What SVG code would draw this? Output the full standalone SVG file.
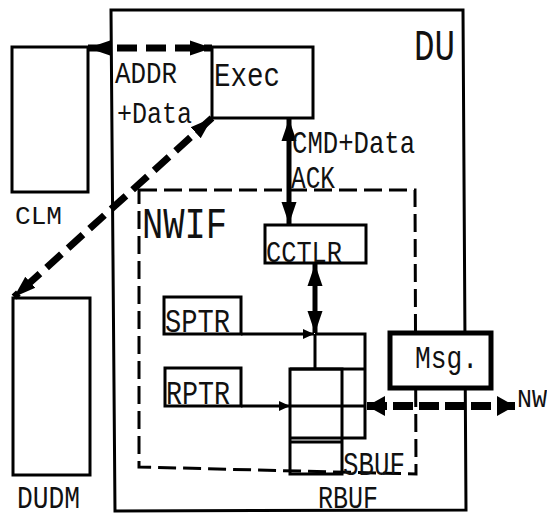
<svg xmlns="http://www.w3.org/2000/svg" width="547" height="513" viewBox="0 0 547 513">
<style>
.box{fill:none;stroke:#000;stroke-width:3}
.t{font-family:"Liberation Mono","Courier New",monospace;fill:#111;}
.dash{fill:none;stroke:#000;stroke-width:3;stroke-dasharray:18 7}
.thick{fill:none;stroke:#000;stroke-width:7;stroke-dasharray:20 9}
.solid{fill:none;stroke:#000;stroke-width:5}
.thin{fill:none;stroke:#000;stroke-width:3}
</style>
<defs>
<marker id="hd" markerUnits="userSpaceOnUse" markerWidth="24" markerHeight="20" refX="22" refY="10" orient="auto-start-reverse"><path d="M0,2.5 L22,10 L0,17.5 z" fill="#000"/></marker>
<marker id="hn" markerUnits="userSpaceOnUse" markerWidth="20" markerHeight="22" refX="18" refY="11" orient="auto-start-reverse"><path d="M0,1 L18,11 L0,21 z" fill="#000"/></marker>
<marker id="hs" markerUnits="userSpaceOnUse" markerWidth="24" markerHeight="18" refX="22" refY="9" orient="auto-start-reverse"><path d="M0,1.5 L22,9 L0,16.5 z" fill="#000"/></marker>
<marker id="hp" markerUnits="userSpaceOnUse" markerWidth="12" markerHeight="12" refX="11" refY="6" orient="auto"><path d="M0,1 L11,6 L0,11 z" fill="#000"/></marker>
</defs>
<rect width="547" height="513" fill="#fff"/>

<g id="DU">
<path class="box" d="M111,10 L463,10 L466,510 L115,511 Z"/>
<text class="t" x="414" y="60" font-size="45" textLength="41" lengthAdjust="spacingAndGlyphs">DU</text>
</g>

<g id="NWIF">
<path class="dash" d="M139,190 L415,190 L416,474 L139,467 Z"/>
<text class="t" x="142" y="238" font-size="45" textLength="85" lengthAdjust="spacingAndGlyphs">NWIF</text>
</g>

<g id="CLM">
<rect class="box" x="12" y="47" width="76" height="145"/>
<text class="t" x="15" y="224" font-size="26" textLength="47" lengthAdjust="spacingAndGlyphs">CLM</text>
</g>

<g id="DUDM">
<rect class="box" x="13" y="298" width="77" height="177"/>
<text class="t" x="17" y="508" font-size="32" textLength="63" lengthAdjust="spacingAndGlyphs">DUDM</text>
</g>

<g id="Exec">
<rect class="box" x="212" y="47" width="101" height="71"/>
<text class="t" x="214" y="86" font-size="34" textLength="66" lengthAdjust="spacingAndGlyphs">Exec</text>
</g>

<g id="CCTLR">
<rect class="box" x="265" y="225" width="101" height="38"/>
<text class="t" x="266" y="262" font-size="30" textLength="76" lengthAdjust="spacingAndGlyphs">CCTLR</text>
</g>

<g id="SPTR">
<rect class="box" x="164" y="297" width="77" height="37"/>
<text class="t" x="165" y="332" font-size="33" textLength="65" lengthAdjust="spacingAndGlyphs">SPTR</text>
</g>

<g id="RPTR">
<rect class="box" x="165" y="368" width="76" height="38"/>
<text class="t" x="166" y="404" font-size="33" textLength="64" lengthAdjust="spacingAndGlyphs">RPTR</text>
</g>

<g id="SBUF">
<path class="thin" d="M315,334 L365,334 L365,438 L290,438 M315,334 L315,369"/>
<text class="t" x="343" y="475" font-size="33" textLength="62" lengthAdjust="spacingAndGlyphs">SBUF</text>
</g>

<g id="RBUF">
<rect class="box" x="290" y="369" width="52" height="105"/>
<line class="thin" x1="290" y1="369" x2="365" y2="369"/>
<line class="thin" x1="290" y1="406" x2="365" y2="406"/>
<line class="thin" x1="290" y1="442" x2="342" y2="442"/>
<text class="t" x="318" y="508" font-size="32" textLength="60" lengthAdjust="spacingAndGlyphs">RBUF</text>
</g>

<g id="Msg">
<rect x="390" y="333" width="101" height="55" fill="#fff" stroke="#000" stroke-width="5"/>
<text class="t" x="415" y="368" font-size="32" textLength="63" lengthAdjust="spacingAndGlyphs">Msg.</text>
</g>

<g id="connectors">
<line class="thick" x1="88" y1="48" x2="212" y2="48" marker-start="url(#hd)" marker-end="url(#hd)"/>
<line class="thick" x1="212" y1="118" x2="14" y2="297" marker-start="url(#hd)" marker-end="url(#hd)"/>
<line class="solid" x1="289" y1="119" x2="289" y2="224" marker-start="url(#hs)" marker-end="url(#hs)"/>
<line class="solid" x1="315" y1="264" x2="315" y2="333" marker-start="url(#hs)" marker-end="url(#hs)"/>
<line class="thin" x1="241" y1="334" x2="314" y2="334" marker-end="url(#hp)"/>
<line class="thin" x1="241" y1="406" x2="290" y2="406" marker-end="url(#hp)"/>
<line fill="none" stroke="#000" stroke-width="8" stroke-dasharray="20 6" x1="367" y1="406" x2="515" y2="406" marker-start="url(#hn)" marker-end="url(#hn)"/>
</g>

<g id="labels">
<text class="t" x="115" y="83" font-size="30" textLength="62" lengthAdjust="spacingAndGlyphs">ADDR</text>
<text class="t" x="117" y="123" font-size="30" textLength="75" lengthAdjust="spacingAndGlyphs">+Data</text>
<text class="t" x="292" y="153" font-size="32" textLength="123" lengthAdjust="spacingAndGlyphs">CMD+Data</text>
<text class="t" x="291" y="188" font-size="32" textLength="44" lengthAdjust="spacingAndGlyphs">ACK</text>
<text class="t" x="517" y="407" font-size="26" textLength="30" lengthAdjust="spacingAndGlyphs">NW</text>
</g>
</svg>
